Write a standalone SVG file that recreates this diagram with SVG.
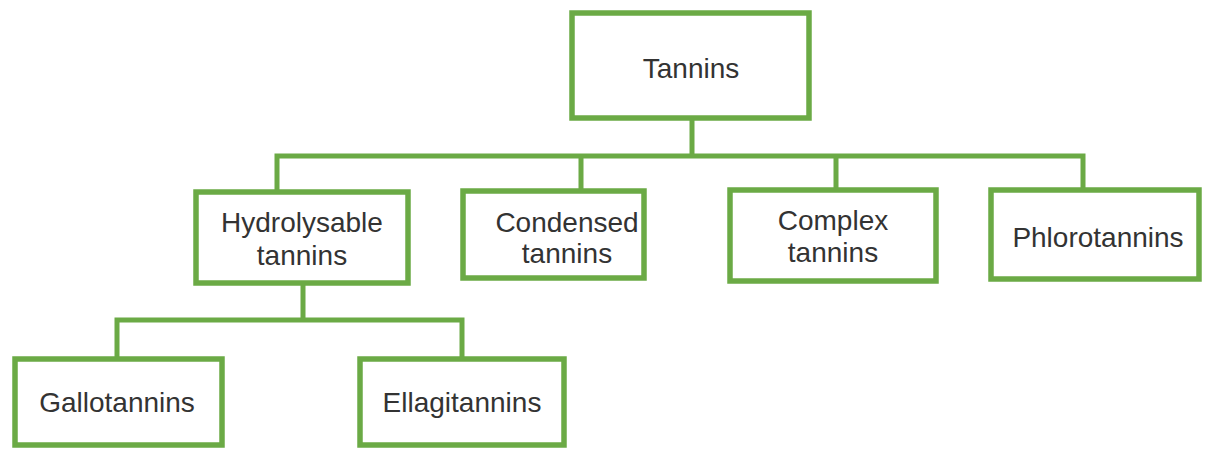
<svg xmlns="http://www.w3.org/2000/svg" width="1208" height="449" viewBox="0 0 1208 449">
<style>
.box{fill:#fff;stroke:#6BAA45;stroke-width:5.5}
.conn{fill:none;stroke:#6BAA45;stroke-width:5;stroke-linecap:square}
.t{font-family:"Liberation Sans",Arial,sans-serif;font-size:28px;fill:#333;text-anchor:middle}
</style>
<rect width="1208" height="449" fill="#fff"/>
<g id="connectors">
<path class="conn" d="M692 118V156M277 156H1083M277 156V192M581 156V191M836 156V190M1083 156V190"/>
<path class="conn" d="M303 283V320M117 320H462M117 320V359M462 320V359"/>
</g>
<g id="tannins"><rect class="box" x="572" y="13" width="237" height="105"/><text class="t" x="691" y="78">Tannins</text></g>
<g id="hydrolysable"><rect class="box" x="196" y="192" width="212" height="91"/><text class="t" x="302" y="232">Hydrolysable</text><text class="t" x="302" y="265">tannins</text></g>
<g id="condensed"><rect class="box" x="463" y="191" width="181" height="87"/><text class="t" x="567" y="232">Condensed</text><text class="t" x="567" y="263">tannins</text></g>
<g id="complex"><rect class="box" x="730" y="190" width="206" height="91"/><text class="t" x="833" y="230">Complex</text><text class="t" x="833" y="262">tannins</text></g>
<g id="phlorotannins"><rect class="box" x="991" y="190" width="208" height="89"/><text class="t" x="1098" y="247">Phlorotannins</text></g>
<g id="gallotannins"><rect class="box" x="15" y="359" width="207" height="86"/><text class="t" x="117" y="412">Gallotannins</text></g>
<g id="ellagitannins"><rect class="box" x="360" y="359" width="204" height="86"/><text class="t" x="462" y="412">Ellagitannins</text></g>
</svg>
